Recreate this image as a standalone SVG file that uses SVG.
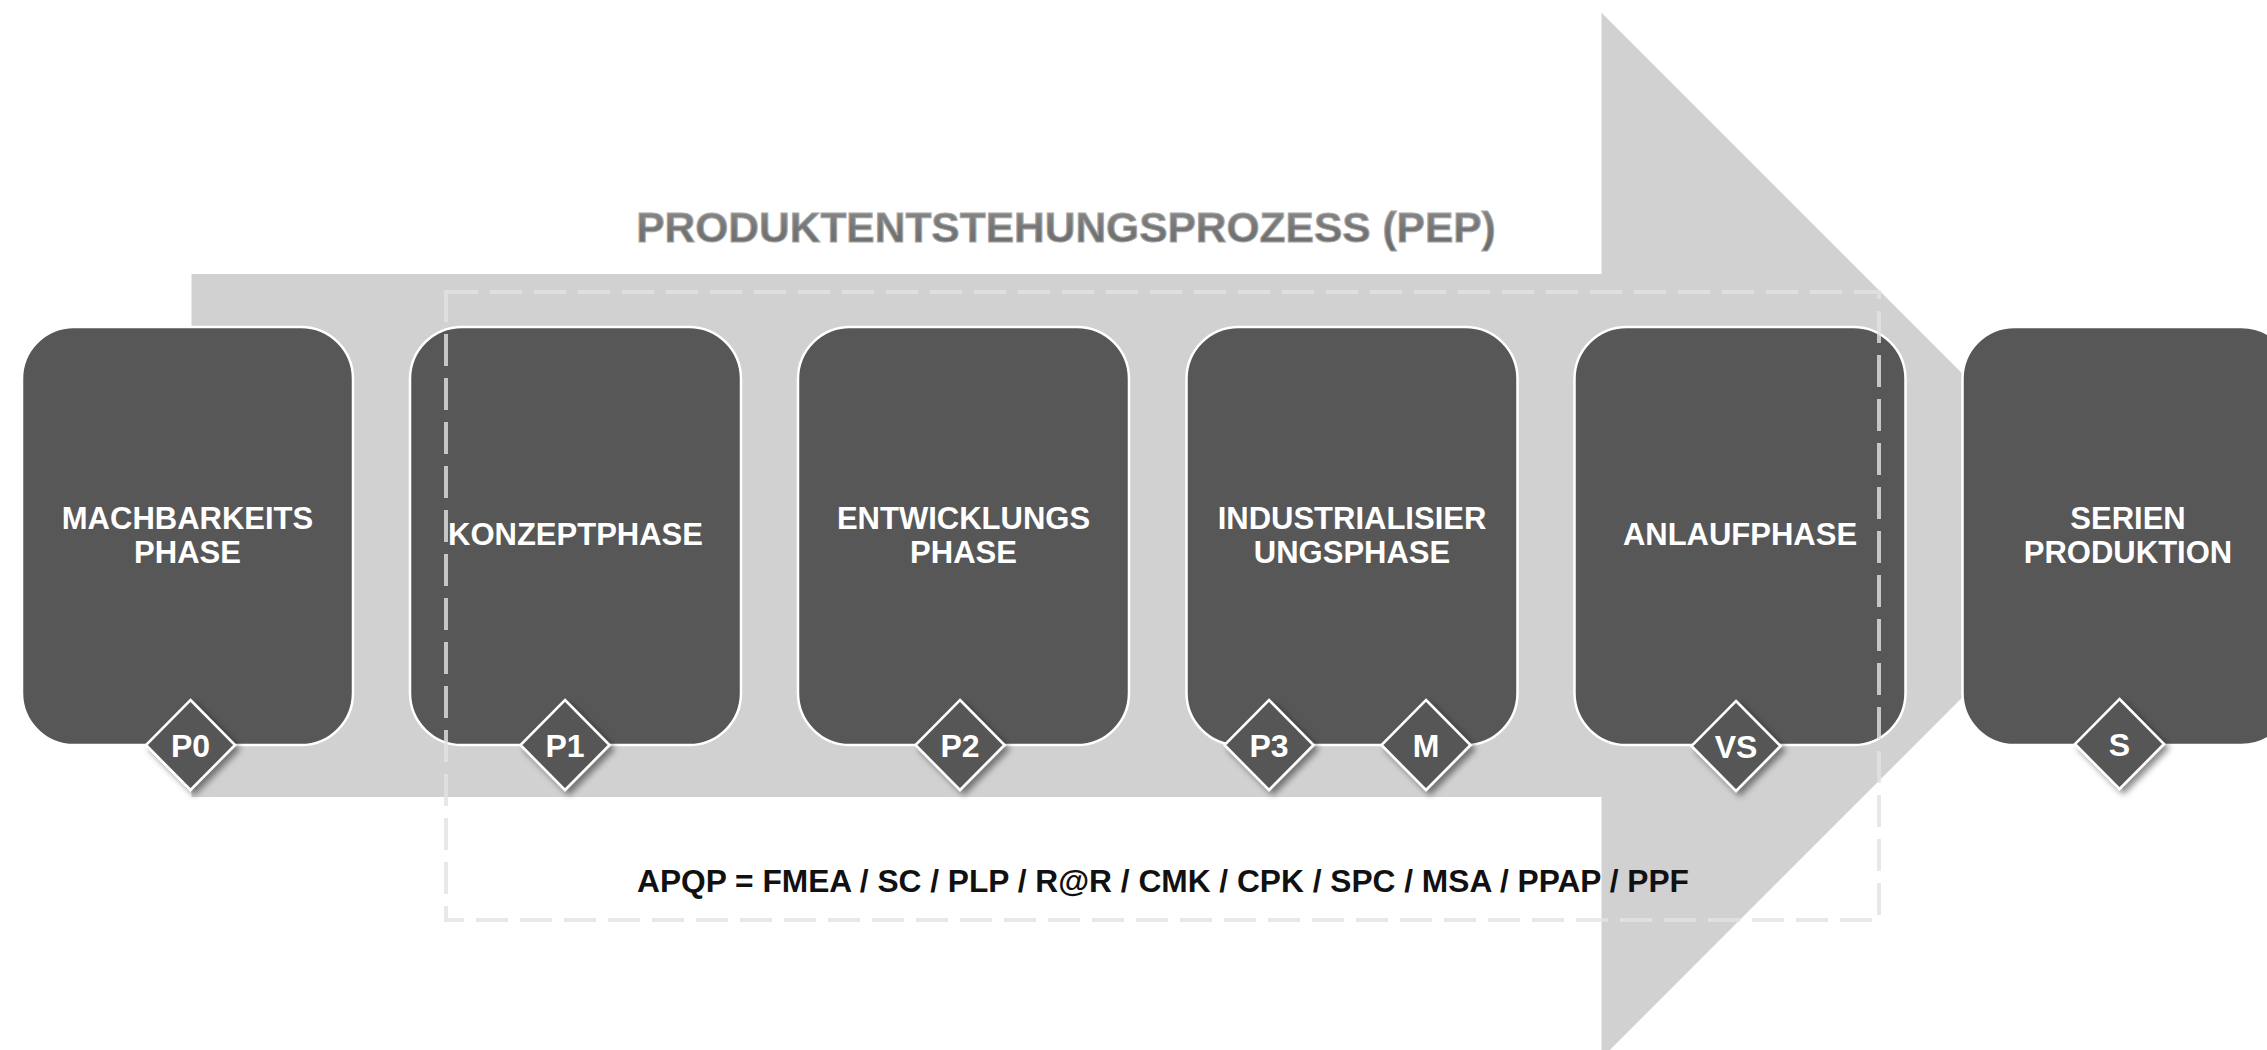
<svg xmlns="http://www.w3.org/2000/svg" width="2267" height="1050" viewBox="0 0 2267 1050">
  <defs>
    <style>
      .box { fill: #575757; stroke: #ffffff; stroke-width: 2.5; }
      .dia { fill: #575757; stroke: #ffffff; stroke-width: 2.5; filter: url(#shadow); }
      .lbl { font-family: "Liberation Sans", Arial, sans-serif; font-weight: bold; font-size: 31px; fill: #ffffff; text-anchor: middle; }
      .ms { font-family: "Liberation Sans", Arial, sans-serif; font-weight: bold; font-size: 32px; fill: #ffffff; text-anchor: middle; }
      .title { font-family: "Liberation Sans", Arial, sans-serif; font-weight: bold; font-size: 42.5px; fill: url(#tg); stroke: #a8a8a8; stroke-width: 1; text-anchor: middle; }
      .apqp { font-family: "Liberation Sans", Arial, sans-serif; font-weight: bold; font-size: 31.7px; fill: #111111; text-anchor: middle; }
      .dash { fill: none; stroke: #e2e2e2; stroke-opacity: 0.8; stroke-width: 4; stroke-dasharray: 32 12; }
    </style>
    <linearGradient id="tg" x1="0" y1="0" x2="0" y2="1">
      <stop offset="0" stop-color="#8e8e8e"/>
      <stop offset="0.5" stop-color="#767676"/>
      <stop offset="1" stop-color="#6a6a6a"/>
    </linearGradient>
    <filter id="shadow" x="-30%" y="-30%" width="170%" height="170%">
      <feDropShadow dx="4" dy="4" stdDeviation="3" flood-color="#000000" flood-opacity="0.45"/>
    </filter>
  </defs>
  <rect width="2267" height="1050" fill="#ffffff"/>

  <g id="pep-arrow">
    <polygon points="191.5,274 1601.5,274 1601.5,12.7 2124.3,535.5 1601.5,1058.3 1601.5,797 191.5,797" fill="#d1d1d1"/>
    <text class="title" x="1066" y="242">PRODUKTENTSTEHUNGSPROZESS (PEP)</text>
  </g>

  <g id="node-machbarkeit">
    <rect class="box" x="22" y="327" width="331" height="418" rx="52" ry="52"/>
    <text class="lbl" x="187.5" y="528.5">MACHBARKEITS</text>
    <text class="lbl" x="187.5" y="562.5">PHASE</text>
  </g>
  <g id="node-konzept">
    <rect class="box" x="410" y="327" width="331" height="418" rx="52" ry="52"/>
    <text class="lbl" x="575.5" y="545">KONZEPTPHASE</text>
  </g>
  <g id="node-entwicklung">
    <rect class="box" x="798" y="327" width="331" height="418" rx="52" ry="52"/>
    <text class="lbl" x="963.5" y="528.5">ENTWICKLUNGS</text>
    <text class="lbl" x="963.5" y="562.5">PHASE</text>
  </g>
  <g id="node-industrialisierung">
    <rect class="box" x="1186.5" y="327" width="331" height="418" rx="52" ry="52"/>
    <text class="lbl" x="1352" y="528.5">INDUSTRIALISIER</text>
    <text class="lbl" x="1352" y="562.5">UNGSPHASE</text>
  </g>
  <g id="node-anlauf">
    <rect class="box" x="1574.5" y="327" width="331" height="418" rx="52" ry="52"/>
    <text class="lbl" x="1740" y="545">ANLAUFPHASE</text>
  </g>
  <g id="node-serie">
    <rect class="box" x="1962.5" y="327" width="331" height="418" rx="52" ry="52"/>
    <text class="lbl" x="2128" y="528.5">SERIEN</text>
    <text class="lbl" x="2128" y="562.5">PRODUKTION</text>
  </g>

  <g id="apqp-frame">
    <rect class="dash" x="446" y="292" width="1433" height="628"/>
    <text class="apqp" x="1163" y="892">APQP = FMEA / SC / PLP / R@R / CMK / CPK / SPC / MSA / PPAP / PPF</text>
  </g>

  <g id="connectors"></g>

  <g id="ms-p0">
    <polygon class="dia" points="190.5,700 235,745 190.5,790 146,745"/>
    <text class="ms" x="190.5" y="756.5">P0</text>
  </g>
  <g id="ms-p1">
    <polygon class="dia" points="565,700 609.5,745 565,790 520.5,745"/>
    <text class="ms" x="565" y="756.5">P1</text>
  </g>
  <g id="ms-p2">
    <polygon class="dia" points="960,700 1004.5,745 960,790 915.5,745"/>
    <text class="ms" x="960" y="756.5">P2</text>
  </g>
  <g id="ms-p3">
    <polygon class="dia" points="1269,700 1313.5,745 1269,790 1224.5,745"/>
    <text class="ms" x="1269" y="756.5">P3</text>
  </g>
  <g id="ms-m">
    <polygon class="dia" points="1426,700 1470.5,745 1426,790 1381.5,745"/>
    <text class="ms" x="1426" y="756.5">M</text>
  </g>
  <g id="ms-vs">
    <polygon class="dia" points="1736,701 1780.5,746 1736,791 1691.5,746"/>
    <text class="ms" x="1736" y="757.5">VS</text>
  </g>
  <g id="ms-s">
    <polygon class="dia" points="2119.5,699 2164,744 2119.5,789 2075,744"/>
    <text class="ms" x="2119.5" y="755.5">S</text>
  </g>
</svg>
